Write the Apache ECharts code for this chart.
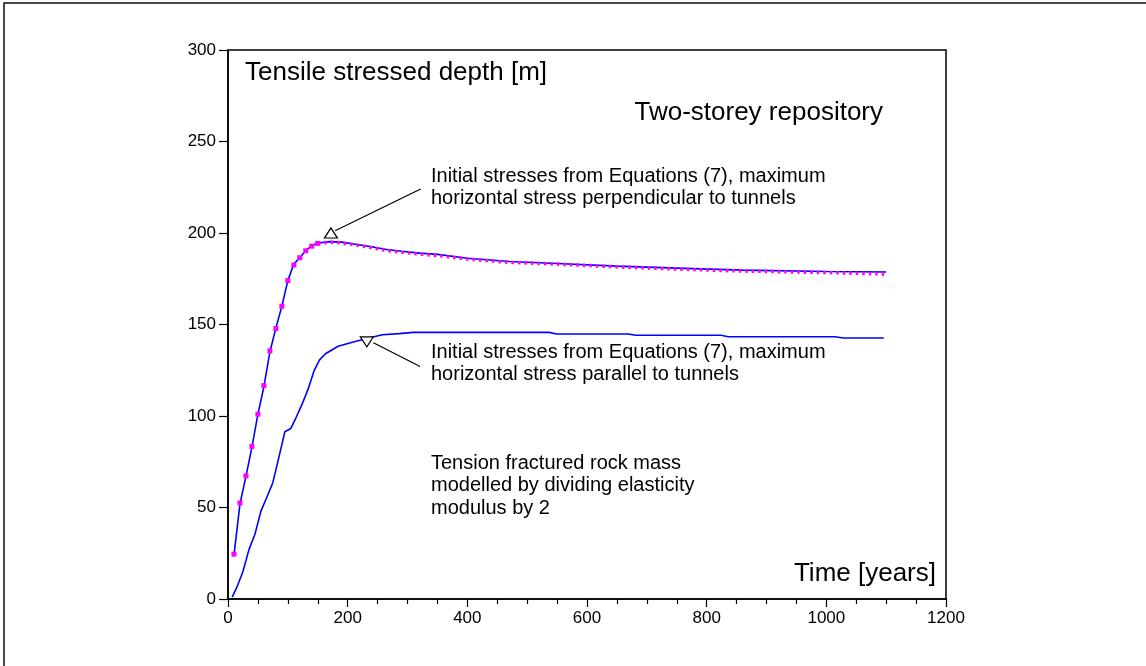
<!DOCTYPE html>
<html>
<head>
<meta charset="utf-8">
<title>Tensile stressed depth</title>
<script src="https://cdn.jsdelivr.net/npm/echarts@6/dist/echarts.min.js"></script>
<style>
  html, body { margin: 0; padding: 0; background: #fff; }
  #chart { width: 1146px; height: 666px; }
</style>
</head>
<body>
<div id="chart"></div>
<script>
// Perpendicular case: tensile stressed depth [m] vs time [years]
const perpTime  = [10, 20, 30, 40, 50, 60, 70, 80, 90, 100, 110, 120, 130, 140, 150, 170, 190, 210, 240, 265, 290, 320, 350, 400, 470, 550, 650, 750, 860, 1000, 1100];
const perpDepth = [24, 52, 67, 83, 101, 116, 135, 148, 160, 174, 183, 186.5, 190.5, 193, 194.5, 195.3, 195, 194, 192.5, 191, 190, 189, 188.3, 186.2, 184.4, 183.3, 181.9, 180.8, 179.7, 179, 178.7];

// Check run, plotted as dots every 10 years on the rising branch ...
const checkDotTime  = [10, 20, 30, 40, 50, 60, 70, 80, 90, 100, 110, 120, 130, 140, 150];
const checkDotDepth = [24.5, 52.5, 67.3, 83.4, 101, 116.6, 135.6, 147.8, 160, 174, 182.5, 186.5, 190.3, 192.8, 194.3];
// ... and as a dotted trail afterwards
const checkTrailTime  = [150, 170, 190, 210, 240, 265, 290, 320, 350, 400, 470, 550, 650, 750, 860, 1000, 1100];
const checkTrailDepth = [194.3, 195, 194.6, 193.7, 192, 190.5, 189.5, 188.5, 187.7, 185.8, 184, 183, 181.5, 180.3, 179.2, 178.4, 177.6];

// Parallel case
const paraTime  = [7, 15, 25, 35, 45, 55, 66, 75, 85, 95, 105, 114, 124, 134, 144, 153, 163, 184, 208, 230, 258, 286, 310, 537, 549, 669, 681, 824, 836, 1015, 1028, 1096];
const paraDepth = [1, 6.6, 15, 27, 35.4, 48, 56.4, 63.7, 77.4, 91.4, 93.2, 99.3, 106.6, 114.8, 124.8, 130.7, 134, 138.1, 140.3, 142.2, 144.4, 145, 145.7, 145.7, 144.8, 144.8, 144.1, 144.1, 143.3, 143.3, 142.6, 142.6];

const xRange = [0, 1200];
const yRange = [0, 300];

const zip = (xs, ys) => xs.map((x, i) => [x, ys[i]]);

const FONT = '"Liberation Sans", Arial, Helvetica, sans-serif';
const BLUE = '#0000ff';
const MAGENTA = '#ff00ff';

const chart = echarts.init(document.getElementById('chart'), null, { renderer: 'canvas' });

const axisCommon = {
  axisLine: { show: true, lineStyle: { color: '#000', width: 1.5 } },
  splitLine: { show: false },
  axisLabel: { color: '#000', fontFamily: FONT, fontSize: 17, formatter: v => String(v) }
};

function text(str, x, baseline, size, align) {
  return {
    type: 'text',
    x: x,
    y: baseline - 0.35 * size,
    style: {
      text: str,
      fill: '#000',
      font: size + 'px ' + FONT,
      textAlign: align || 'left',
      textVerticalAlign: 'middle'
    },
    silent: true
  };
}

const option = {
  animation: false,
  backgroundColor: '#fff',
  grid: {
    left: 228, top: 50, right: 200, bottom: 67,
    show: true, borderColor: '#000', borderWidth: 1.5, backgroundColor: 'transparent'
  },
  xAxis: Object.assign({}, axisCommon, {
    type: 'value',
    min: xRange[0], max: xRange[1], interval: 200,
    axisTick: { show: true, inside: false, length: 8, lineStyle: { color: '#000', width: 1.2 } },
    minorTick: { show: true, splitNumber: 4, length: 5, lineStyle: { color: '#000', width: 1.2 } },
    axisLabel: Object.assign({}, axisCommon.axisLabel, { margin: 11 })
  }),
  yAxis: Object.assign({}, axisCommon, {
    type: 'value',
    min: yRange[0], max: yRange[1], interval: 50,
    axisTick: { show: true, inside: false, length: 9, lineStyle: { color: '#000', width: 1.2 } },
    axisLabel: Object.assign({}, axisCommon.axisLabel, { margin: 12 })
  }),
  series: [
    {
      name: 'perpendicular',
      type: 'line',
      data: zip(perpTime, perpDepth),
      showSymbol: false,
      symbol: 'none',
      lineStyle: { color: BLUE, width: 1.6 },
      z: 3,
      markPoint: {
        symbol: 'triangle',
        symbolSize: [13, 10],
        itemStyle: { color: '#fff', borderColor: '#000', borderWidth: 1.2 },
        label: { show: false },
        data: [{ coord: [172, 200] }]
      },
      markLine: {
        symbol: 'none',
        silent: true,
        label: { show: false },
        lineStyle: { color: '#000', width: 1.2, type: 'solid' },
        data: [[{ coord: [179, 201.2] }, { coord: [322, 224] }]]
      }
    },
    {
      name: 'check dots',
      type: 'line',
      data: zip(checkDotTime, checkDotDepth),
      showSymbol: true,
      symbol: 'rect',
      symbolSize: 5,
      itemStyle: { color: MAGENTA },
      lineStyle: { width: 0, opacity: 0 },
      z: 4
    },
    {
      name: 'check trail',
      type: 'line',
      data: zip(checkTrailTime, checkTrailDepth),
      showSymbol: false,
      symbol: 'none',
      lineStyle: { color: MAGENTA, width: 3.5, type: [2.5, 4] },
      z: 4
    },
    {
      name: 'parallel',
      type: 'line',
      data: zip(paraTime, paraDepth),
      showSymbol: false,
      symbol: 'none',
      lineStyle: { color: BLUE, width: 1.6 },
      z: 3,
      markPoint: {
        symbol: 'triangle',
        symbolSize: [13, 10],
        symbolRotate: 180,
        itemStyle: { color: '#fff', borderColor: '#000', borderWidth: 1.2 },
        label: { show: false },
        data: [{ coord: [232, 140.5] }]
      },
      markLine: {
        symbol: 'none',
        silent: true,
        label: { show: false },
        lineStyle: { color: '#000', width: 1.2, type: 'solid' },
        data: [[{ coord: [243, 140] }, { coord: [321, 127] }]]
      }
    }
  ],
  graphic: [
    {
      type: 'rect',
      shape: { x: 4, y: 3, width: 1160, height: 680 },
      style: { fill: 'none', stroke: '#111', lineWidth: 1.5 },
      silent: true
    },
    text('Tensile stressed depth [m]', 245, 82, 26),
    text('Two-storey repository', 883, 122, 26, 'right'),
    text('Initial stresses from Equations (7), maximum', 431, 183, 20),
    text('horizontal stress perpendicular to tunnels', 431, 205, 20),
    text('Initial stresses from Equations (7), maximum', 431, 359, 20),
    text('horizontal stress parallel to tunnels', 431, 381, 20),
    text('Tension fractured rock mass', 431, 470, 20),
    text('modelled by dividing elasticity', 431, 492, 20),
    text('modulus by 2', 431, 515, 20),
    text('Time [years]', 936, 583, 26, 'right')
  ]
};

chart.setOption(option);
</script>
</body>
</html>
